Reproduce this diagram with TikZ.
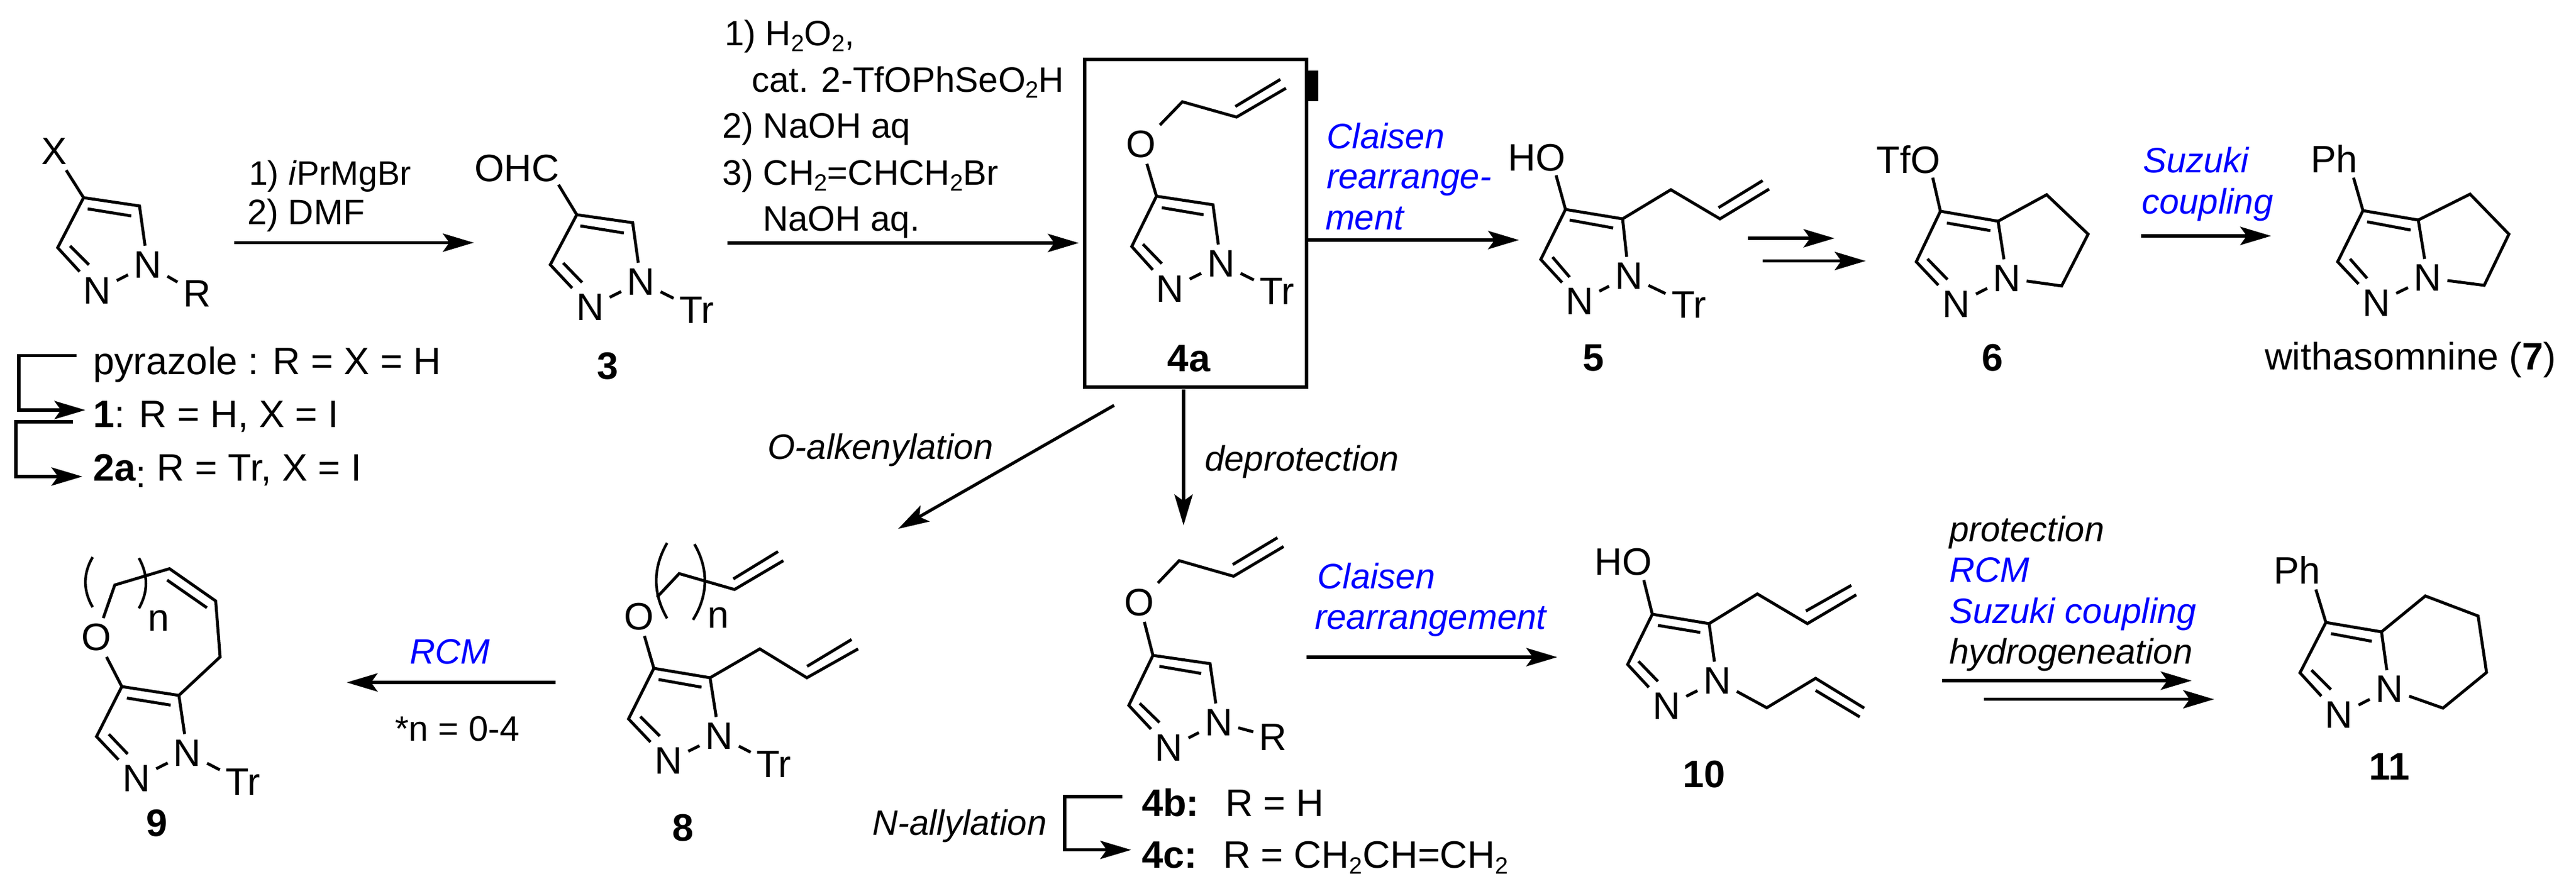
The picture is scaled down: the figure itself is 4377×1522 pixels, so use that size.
\documentclass[tikz,border=0pt]{standalone}
\usepackage{fontspec}
\setmainfont{Liberation Sans}
\usetikzlibrary{arrows.meta}
\newcommand{\atC}[3]{\coordinate (#1) at (#2,#3);}
\newcommand{\atL}[4]{\node[atom] (#1) at (#2,#3) {#4};}
\newcommand{\subtwo}{\raisebox{-2pt}{\fontsize{8}{8}\selectfont 2}}
\definecolor{rxblue}{RGB}{0,0,255}
\tikzset{
  atom/.style={font=\fontsize{13}{15}\selectfont,inner sep=2pt,outer sep=0pt,text=black},
  cmpd/.style={font=\fontsize{13}{15}\selectfont\bfseries,inner sep=0pt},
  big/.style={font=\fontsize{13}{15}\selectfont,inner sep=0pt,anchor=base west},
  rg/.style={font=\fontsize{12}{14}\selectfont,inner sep=0pt,anchor=base west},
  rgb/.style={rg,font=\fontsize{12}{14}\selectfont\itshape,text=rxblue},
  rgi/.style={rg,font=\fontsize{12}{14}\selectfont\itshape},
  bond/.style={line width=1pt,line join=miter,line cap=butt},
  paren/.style={line width=0.9pt},
  rx/.style={line width=1.05pt,-{Stealth[length=10.5pt,width=6.2pt,inset=2.2pt]}},
}
\begin{document}
\begin{tikzpicture}[x=0.2pt,y=-0.2pt]
\useasboundingbox (0,0) rectangle (4377,1522);

% --- compound 2 (top left)
\atL{bX}{92}{257}{X}\atC{bc4}{142}{336}\atC{bc5}{237}{350}\atC{bc3}{98}{421}
\atL{bn1}{251}{450}{N}\atL{bn2}{165}{494}{N}\atL{bR}{335}{499}{R}
\draw[bond] (bX) -- (bc4);
\draw[bond] (bn1) -- (bc5) -- (bc4) -- (bc3) -- (bn2);
\draw[bond] (bn2) -- (bn1);\draw[bond] (bn1) -- (bR);
\draw[bond] (149,355) -- (223,367);\draw[bond] (119,418) -- (151,450);

\node[big] (lpyr) at (157,636) {pyrazole : R = X = H};
\node[big] (l1) at (157,726) {\textbf{1}: R = H, X = I};
\node[big] (l2a) at (157,817) {\textbf{2a}\raisebox{-2.2pt}{:} R = Tr, X = I};
\atC{br1a}{130}{604.5}\atC{br1b}{32}{604.5}\atC{br1c}{32}{697}\atC{br1d}{145}{697}
\draw[rx] (br1a) -- (br1b) -- (br1c) -- (br1d);
\atC{br2a}{124}{717}\atC{br2b}{27}{717}\atC{br2c}{27}{810}\atC{br2d}{140}{810}
\draw[rx] (br2a) -- (br2b) -- (br2c) -- (br2d);

% --- arrow 2 -> 3
\node[rg,font=\fontsize{11.5}{14}\selectfont] (r1a) at (422,314) {1) \textit{i}PrMgBr};
\node[rg] (r1b) at (419,381) {2) DMF};
\atC{a1s}{398}{412.5}\atC{a1e}{805}{412.5}
\draw[rx] (a1s) -- (a1e);

% --- compound 3
\node[atom] (cO) at (878.5,286) {OHC};
\atC{coh}{949}{314}\atC{cc4}{980}{365}\atC{cc5}{1075}{378.5}\atC{cc3}{935}{450}
\atL{cn1}{1089}{479}{N}\atL{cn2}{1002.5}{522}{N}\atL{cT}{1184}{527}{Tr}
\draw[bond] (coh) -- (cc4);
\draw[bond] (cn1) -- (cc5) -- (cc4) -- (cc3) -- (cn2);
\draw[bond] (cn2) -- (cn1);\draw[bond] (cn1) -- (cT);
\draw[bond] (986,384) -- (1060,396);\draw[bond] (957,447) -- (989,480);
\node[cmpd] (l3) at (1033,622.5) {3};

% --- arrow 3 -> 4a
\node[rg] (r2a) at (1230,77) {1) H\subtwo O\subtwo ,};
\node[rg] (r2b) at (1276,156) {cat. 2-TfOPhSeO\subtwo H};
\node[rg] (r2c) at (1226,234) {2) NaOH aq};
\node[rg] (r2d) at (1226,314) {3) CH\subtwo =CHCH\subtwo Br};
\node[rg] (r2e) at (1295,392) {NaOH aq.};
\atC{a2s}{1236}{413}\atC{a2e}{1833}{413}
\draw[rx] (a2s) -- (a2e);

% --- compound 4a in box
\node[draw,line width=1.3pt,minimum height=111.4pt,inner sep=0pt,minimum width=75.4pt] (box) at (2031.5,379.5) {};
\fill (2221,120) rectangle (2240,172);
\atL{dO}{1939}{245.5}{O}\atC{dch2}{2009}{173}\atC{dch}{2101}{199}\atC{dv}{2185}{150}
\atC{dc4}{1965}{333.5}\atC{dc5}{2061}{348}\atC{dc3}{1923}{419}
\atL{dn1}{2074.5}{448}{N}\atL{dn2}{1988}{491}{N}\atL{dT}{2170}{495.5}{Tr}
\draw[bond] (dO) -- (dch2) -- (dch) -- (dv);
\draw[bond] (2099,181) -- (2175.5,135);
\draw[bond] (dO) -- (dc4);
\draw[bond] (dn1) -- (dc5) -- (dc4) -- (dc3) -- (dn2);
\draw[bond] (dn2) -- (dn1);\draw[bond] (dn1) -- (dT);
\draw[bond] (1974,353) -- (2045,365);\draw[bond] (1942,415) -- (1974,448);
\node[cmpd] (l4a) at (2020,609) {4a};

% --- 4a -> 5
\node[rgb] (r3a) at (2253.5,252) {Claisen};
\node[rgb] (r3b) at (2253,320.5) {rearrange-};
\node[rgb] (r3c) at (2251,390.6) {ment};
\atC{a3s}{2220}{408}\atC{a3e}{2581}{408}
\draw[rx] (a3s) -- (a3e);

% --- compound 5
\node[atom] (eO) at (2611,268) {HO};
\atC{eoh}{2644}{298}\atC{ec4}{2660}{356}\atC{ec5}{2757}{372}\atC{ech2}{2839}{322.5}
\atC{ech}{2922.5}{372}\atC{ev}{3006}{321.4}\atC{ec3}{2618}{441}
\atL{en1}{2767.5}{469}{N}\atL{en2}{2684}{512.5}{N}\atL{eT}{2869.5}{518}{Tr}
\draw[bond] (eoh) -- (ec4);
\draw[bond] (ec5) -- (ech2) -- (ech) -- (ev);
\draw[bond] (2920,353) -- (2995,307);
\draw[bond] (en1) -- (ec5) -- (ec4) -- (ec3) -- (en2);
\draw[bond] (en2) -- (en1);\draw[bond] (en1) -- (eT);
\draw[bond] (2667,374) -- (2741,387.5);\draw[bond] (2638,437) -- (2667,471);
\node[cmpd] (l5) at (2708,608) {5};

% --- 5 -> 6
\atC{a4s}{2970}{405}\atC{a4e}{3117}{405}\atC{a5s}{2995}{443.6}\atC{a5e}{3170}{443.6}
\draw[rx] (a4s) -- (a4e);
\draw[rx] (a5s) -- (a5e);

% --- compound 6
\node[atom] (fO) at (3243,271) {TfO};
\atC{foh}{3284}{302}\atC{fc4}{3297}{359}\atC{fc5}{3395}{376}\atC{fa}{3477.5}{331}
\atC{fb}{3548}{398}\atC{fc}{3503}{486}\atC{fc3}{3256}{445}
\atL{fn1}{3410}{473}{N}\atL{fn2}{3324}{517}{N}
\draw[bond] (foh) -- (fc4);
\draw[bond] (fn1) -- (fc5) -- (fc4) -- (fc3) -- (fn2);
\draw[bond] (fc5) -- (fa) -- (fb) -- (fc) -- (fn1);
\draw[bond] (fn2) -- (fn1);
\draw[bond] (3308,379) -- (3382,392);\draw[bond] (3275,440) -- (3309,475);
\node[cmpd] (l6) at (3386,608) {6};

% --- 6 -> 7
\node[rgb] (r4a) at (3640,293) {Suzuki};
\node[rgb] (r4b) at (3638,363) {coupling};
\atC{a6s}{3638}{401}\atC{a6e}{3859}{401}
\draw[rx] (a6s) -- (a6e);

% --- compound 7
\node[atom] (gP) at (3966,270) {Ph};
\atC{gph}{3999}{302}\atC{gc4}{4015}{358}\atC{gc5}{4109}{374}\atC{ga}{4197}{330}
\atC{gb}{4263}{398}\atC{gc}{4221}{485}\atC{gc3}{3972}{445}
\atL{gn1}{4125}{472.5}{N}\atL{gn2}{4038}{515}{N}
\draw[bond] (gph) -- (gc4);
\draw[bond] (gn1) -- (gc5) -- (gc4) -- (gc3) -- (gn2);
\draw[bond] (gc5) -- (ga) -- (gb) -- (gc) -- (gn1);
\draw[bond] (gn2) -- (gn1);
\draw[bond] (4022,377) -- (4096,391);\draw[bond] (3993,440) -- (4022,473);
\node[big] (l7) at (3847,628) {withasomnine (\textbf{7})};

% --- 4a -> 8 and 4a -> 4b
\atC{a7s}{1893}{689}\atC{a7e}{1526}{899}
\draw[rx] (a7s) -- (a7e);
\node[rgi] (r5) at (1303,780) {O-alkenylation};
\atC{a8s}{2011}{662}\atC{a8e}{2011}{893}
\draw[rx] (a8s) -- (a8e);
\node[rgi] (r6) at (2046,800) {deprotection};

% --- compound 4b/4c
\atL{hO}{1936}{1024}{O}\atC{hch2}{2003.6}{953}\atC{hch}{2096}{979.5}\atC{hv}{2181}{929}
\atC{hc4}{1959}{1114}\atC{hc5}{2056}{1128}\atC{hc3}{1918}{1199}
\atL{hn1}{2070.5}{1228}{N}\atL{hn2}{1986}{1271.6}{N}\atL{hR}{2163}{1253}{R}
\draw[bond] (hO) -- (hch2) -- (hch) -- (hv);
\draw[bond] (2094.6,959.6) -- (2170.5,914);
\draw[bond] (hO) -- (hc4);
\draw[bond] (hn1) -- (hc5) -- (hc4) -- (hc3) -- (hn2);
\draw[bond] (hn2) -- (hn1);\draw[bond] (hn1) -- (hR);
\draw[bond] (1970,1132.6) -- (2041,1144.7);\draw[bond] (1936.6,1195.5) -- (1970,1228);
\node[big,font=\fontsize{13}{15}\selectfont\bfseries] (l4b) at (1939,1387) {4b:};
\node[big] (l4bt) at (2081,1387) {R = H};
\node[big,font=\fontsize{13}{15}\selectfont\bfseries] (l4c) at (1939,1475) {4c:};
\node[big] (l4ct) at (2077,1475) {R = CH\subtwo CH=CH\subtwo};
\node[rgi] (r7) at (1481,1419.5) {N-allylation};
\atC{br3a}{1907}{1354}\atC{br3b}{1809}{1354}\atC{br3c}{1809}{1444.6}\atC{br3d}{1922}{1444.6}
\draw[rx] (br3a) -- (br3b) -- (br3c) -- (br3d);

% --- 4c -> 10
\node[rgb] (r8a) at (2237.5,1000) {Claisen};
\node[rgb] (r8b) at (2233,1069.7) {rearrangement};
\atC{a9s}{2220}{1117}\atC{a9e}{2646}{1117}
\draw[rx] (a9s) -- (a9e);

% --- compound 10
\node[atom] (jO) at (2758,955) {HO};
\atC{joh}{2793}{986}\atC{jc4}{2807.5}{1044}\atC{jc5}{2904}{1060}\atC{jch2}{2986}{1009.5}
\atC{jch}{3071}{1060}\atC{jv}{3154}{1011}\atC{jc3}{2765.6}{1129.5}
\atL{jn1}{2917.6}{1157}{N}\atL{jn2}{2831.7}{1200.6}{N}
\atC{jd}{3002}{1203}\atC{je}{3085}{1153}\atC{jf}{3167.6}{1203.6}
\draw[bond] (joh) -- (jc4);
\draw[bond] (jc5) -- (jch2) -- (jch) -- (jv);
\draw[bond] (3068.5,1038.6) -- (3145.6,995);
\draw[bond] (jn1) -- (jc5) -- (jc4) -- (jc3) -- (jn2);
\draw[bond] (jn2) -- (jn1);
\draw[bond] (jn1) -- (jd) -- (je) -- (jf);
\draw[bond] (3085,1173.6) -- (3160,1218.6);
\draw[bond] (2817,1063) -- (2889,1075);\draw[bond] (2784,1124) -- (2817,1158);
\node[cmpd] (l10) at (2895.6,1316) {10};

% --- 10 -> 11
\node[rgi] (r9a) at (3311,920) {protection};
\node[rgb] (r9b) at (3311,989) {RCM};
\node[rgb] (r9c) at (3311,1059) {Suzuki coupling};
\node[rgi] (r9d) at (3311,1128) {hydrogeneation};
\atC{a10s}{3300}{1157}\atC{a10e}{3724}{1157}\atC{a11s}{3371}{1188.6}\atC{a11e}{3762}{1188.6}
\draw[rx] (a10s) -- (a10e);
\draw[rx] (a11s) -- (a11e);

% --- compound 11
\node[atom] (kP) at (3903,969) {Ph};
\atC{kph}{3935}{1002}\atC{kc4}{3952}{1058}\atC{kc5}{4046.5}{1074}\atC{ka}{4121}{1013}
\atC{kb}{4210.6}{1047}\atC{kc}{4225}{1143}\atC{kd}{4151}{1203.6}\atC{kc3}{3908}{1143.6}
\atL{kn1}{4060}{1171.5}{N}\atL{kn2}{3974}{1215.6}{N}
\draw[bond] (kph) -- (kc4);
\draw[bond] (kn1) -- (kc5) -- (kc4) -- (kc3) -- (kn2);
\draw[bond] (kc5) -- (ka) -- (kb) -- (kc) -- (kd) -- (kn1);
\draw[bond] (kn2) -- (kn1);
\draw[bond] (3960.6,1077) -- (4030,1090);\draw[bond] (3927.5,1139) -- (3960.6,1172);
\node[cmpd] (l11) at (4060,1303.5) {11};

% --- compound 8
\atL{mO}{1085.4}{1048}{O}\atC{mch2}{1154}{975}\atC{mch}{1248}{1002}\atC{mv}{1331}{953}
\atC{mc4}{1111}{1136}\atC{mc5}{1206.5}{1152}\atC{mc3}{1068}{1222}
\atC{mp}{1291}{1103}\atC{mq}{1371}{1152}\atC{mr}{1458}{1103}
\atL{mn1}{1222}{1251}{N}\atL{mn2}{1136}{1293.6}{N}\atL{mT}{1315}{1299}{Tr}
\draw[bond] (mO) -- (mch2) -- (mch) -- (mv);
\draw[bond] (1246,984) -- (1322,937.5);
\draw[bond] (mO) -- (mc4);
\draw[bond] (mn1) -- (mc5) -- (mc4) -- (mc3) -- (mn2);
\draw[bond] (mc5) -- (mp) -- (mq) -- (mr);
\draw[bond] (1371.4,1132.6) -- (1447,1087);
\draw[bond] (mn2) -- (mn1);\draw[bond] (mn1) -- (mT);
\draw[bond] (1119,1155) -- (1192,1168);\draw[bond] (1088,1218) -- (1121,1251);
\draw[paren] (1133.5,923) .. controls (1109,965) and (1109,1009) .. (1133.5,1051);
\draw[paren] (1180,925) .. controls (1204,967) and (1204,1011) .. (1177.5,1053.6);
\node[atom] (mn) at (1220.6,1050) {n};
\node[cmpd] (l8) at (1161,1407) {8};

% --- 8 -> 9
\node[rgb] (r10) at (695,1128.6) {RCM};
\node[rg] (r10b) at (670,1259) {*n = 0-4};
\atC{a12s}{943.6}{1160}\atC{a12e}{589}{1160}
\draw[rx] (a12s) -- (a12e);

% --- compound 9
\atL{nO}{164}{1083.6}{O}\atC{nch2}{195}{994.4}\atC{na}{288}{966.6}\atC{nb}{366.5}{1021.5}
\atC{nc}{374}{1116.6}\atC{nc5}{304}{1182}\atC{nc4}{207}{1167}\atC{nc3}{164}{1252}
\atL{nn1}{318.4}{1280}{N}\atL{nn2}{232}{1323.6}{N}\atL{nT}{413}{1329}{Tr}
\draw[bond] (nO) -- (nch2) -- (na) -- (nb) -- (nc) -- (nc5);
\draw[bond] (284,986) -- (351.6,1033);
\draw[bond] (nO) -- (nc4);
\draw[bond] (nn1) -- (nc5) -- (nc4) -- (nc3) -- (nn2);
\draw[bond] (nn2) -- (nn1);\draw[bond] (nn1) -- (nT);
\draw[bond] (215.6,1186.5) -- (290,1198.5);\draw[bond] (185,1248) -- (217,1281.6);
\draw[paren] (157.5,947) .. controls (141,975) and (141,1004) .. (157.5,1032);
\draw[paren] (236,948.6) .. controls (252,977) and (252,1006) .. (236,1034);
\node[atom] (nn) at (269.5,1055) {n};
\node[cmpd] (l9) at (267,1399.5) {9};
\end{tikzpicture}
\end{document}
